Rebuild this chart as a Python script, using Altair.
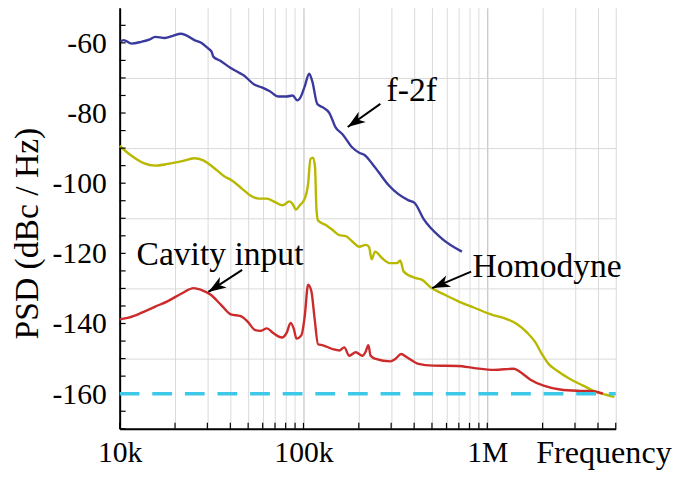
import altair as alt
import pandas as pd

# ---------------- data ----------------
blue_f = [10.1e3, 10.5e3, 11.6e3, 13.1e3, 14.6e3, 15.6e3, 17.6e3, 19.5e3, 21.5e3, 22.9e3,
          25.5e3, 27.6e3, 30.3e3, 31.6e3, 32.4e3, 35.3e3, 40.0e3, 45.3e3, 47.4e3, 53.7e3,
          59.4e3, 65.6e3, 73.1e3, 81.1e3, 87.3e3, 92.5e3, 96.4e3, 101.6e3, 107.4e3, 111.7e3,
          118.9e3, 127.6e3, 138.4e3, 149.2e3, 163.4e3, 185e3, 201e3, 214e3, 237e3, 256e3,
          291e3, 373e3, 402e3, 449e3, 564e3, 728e3]
blue_v = [-59.7, -59.2, -60.2, -59.7, -59.0, -58.3, -58.6, -58.0, -57.4, -57.8,
          -59.2, -59.9, -61.6, -62.5, -64.0, -65.1, -67.1, -68.7, -69.3, -71.8,
          -72.7, -73.8, -75.3, -75.3, -75.0, -76.4, -75.5, -72.4, -68.8, -71.0,
          -77.4, -78.4, -80.0, -84.0, -86.1, -89.9, -91.3, -91.9, -94.5, -96.8,
          -100.6, -104.9, -105.6, -110.1, -115.7, -119.5]

yel_f = [10.0e3, 11.6e3, 13.5e3, 15.6e3, 18.3e3, 21.6e3, 25.5e3, 28.3e3, 32.0e3, 37.0e3,
         41.0e3, 46.4e3, 51.4e3, 57.1e3, 63.2e3, 70.1e3, 77.1e3, 83.8e3, 87.3e3, 91.0e3,
         95.5e3, 101.6e3, 106e3, 109.1e3, 112.8e3, 115.6e3, 117.5e3, 120e3, 133e3, 144.5e3,
         156.7e3, 170e3, 185e3, 201e3, 218e3, 227e3, 235e3, 245e3, 268e3, 297e3,
         323e3, 336e3, 351e3, 405e3, 440e3, 498e3, 587e3, 692e3, 851e3, 1.047e6,
         1.286e6, 1.455e6, 1.648e6, 1.828e6, 1.983e6, 2.153e6, 2.388e6, 2.818e6, 3.324e6, 3.918e6,
         4.436e6, 4.92e6]
yel_v = [-89.4, -92.2, -94.3, -95.0, -94.5, -93.8, -92.9, -93.4, -95.3, -98.0,
         -99.3, -101.6, -103.5, -104.4, -104.4, -105.4, -106.3, -105.2, -105.9, -107.5,
         -106.3, -104.4, -100.2, -93.1, -92.7, -95.5, -106.8, -110.6, -112.0, -113.4,
         -114.8, -115.1, -116.7, -118.1, -117.6, -118.1, -121.7, -119.5, -121.4, -122.8,
         -122.8, -122.0, -125.2, -127.0, -127.5, -129.9, -131.8, -133.6, -135.5, -137.4,
         -138.8, -140.2, -142.6, -145.4, -148.7, -151.5, -153.4, -155.8, -157.7, -159.5,
         -160.3, -160.9]

red_f = [10.0e3, 11.2e3, 13.2e3, 15.6e3, 18.3e3, 21.6e3, 25.3e3, 27.7e3, 31.3e3, 35.5e3,
         40.2e3, 45.5e3, 49.4e3, 54.7e3, 58.2e3, 63.2e3, 68.7e3, 76.2e3, 81.1e3, 85.1e3,
         88.7e3, 91.6e3, 97.5e3, 101.6e3, 106e3, 110.4e3, 115.1e3, 120e3, 127.6e3, 144.5e3,
         156.7e3, 166.7e3, 177.4e3, 192.6e3, 209.4e3, 218e3, 225.4e3, 232e3, 247e3, 297e3,
         316e3, 340e3, 365e3, 422e3, 508e3, 692e3, 851e3, 1.09e6, 1.397e6, 1.518e6,
         1.718e6, 2.025e6, 2.489e6, 3.19e6, 3.758e6, 4.256e6]
red_v = [-138.8, -138.3, -136.9, -135.2, -133.6, -131.5, -129.9, -130.4, -131.8, -134.6,
         -137.4, -137.9, -139.3, -141.9, -142.1, -141.4, -142.8, -144.0, -142.6, -139.8,
         -141.6, -144.3, -143.3, -137.9, -128.9, -130.8, -138.8, -145.9, -146.2, -147.3,
         -147.7, -146.8, -149.2, -148.2, -149.2, -148.0, -146.2, -149.2, -150.1, -150.8,
         -150.1, -148.7, -149.6, -151.5, -152.0, -152.1, -152.7, -153.2, -152.9, -153.9,
         -156.0, -157.7, -158.8, -159.2, -159.3, -160.0]

floor_f = [10e3, 5e6]
floor_v = [-160, -160]

series_names = ["f-2f", "Homodyne", "Cavity input"]
series_colors = ["#3a3a9e", "#b8b800", "#cc2b2b"]

# annotations: label text, label anchor, arrow tail, arrow tip, head angle
ann_text = ["f-2f", "Homodyne", "Cavity input"]
ann_text_f = [283e3, 831e3, 12.35e3]
ann_text_v = [-76.7, -126.7, -123.3]
ann_tail_f = [262e3, 817e3, 46.4e3]
ann_tail_v = [-77.4, -125.2, -124.7]
ann_tip_f = [174e3, 502e3, 30.4e3]
ann_tip_v = [-84.0, -129.9, -131.0]
ann_angle = [235, 247, 237]

x_ticks = [m * d for d in (1e4, 1e5, 1e6) for m in range(1, 10) if m * d <= 5e6]
x_labels = {10000: "10k", 100000: "100k", 1000000: "1M"}
y_ticks = list(range(-170, -50, 5))
y_labels = [-160, -140, -120, -100, -80, -60]

# ---------------- chart ----------------
FONT = "Liberation Serif"
FS = 30      # tick labels
FS_T = 34    # words
W, H = 502, 426

rows = []
for name, fs, vs in zip(series_names, [blue_f, yel_f, red_f], [blue_v, yel_v, red_v]):
    for f, v in zip(fs, vs):
        rows.append({"series": name, "f": f, "v": v})
df = pd.DataFrame(rows)
floor_df = pd.DataFrame({"f": floor_f, "v": floor_v})
ann_df = pd.DataFrame({"text": ann_text, "tf": ann_text_f, "tv": ann_text_v,
                       "f1": ann_tail_f, "v1": ann_tail_v,
                       "f2": ann_tip_f, "v2": ann_tip_v, "ang": ann_angle})
xt_df = pd.DataFrame({"f": x_ticks})
yt_df = pd.DataFrame({"v": y_ticks})
yl_df = pd.DataFrame({"v": y_labels, "s": [str(v) for v in y_labels]})

x_expr = " : ".join(f"datum.value == {k} ? '{v}'" for k, v in x_labels.items()) + " : ''"

xscale = alt.Scale(type="log", domain=[1e4, 5e6], nice=False)
yscale = alt.Scale(domain=[-170, -50], nice=False, zero=False)

AX = dict(labelFont=FONT, labelFontSize=FS, labelColor="black",
          titleFont=FONT, titleColor="black", titleFontWeight="normal",
          labelOverlap=False, labelFlush=False, ticks=False,
          domainColor="black", domainWidth=2, grid=True, gridWidth=1)

x_axis = alt.Axis(
    values=x_ticks, labelExpr=x_expr, labelPadding=9,
    gridColor={"condition": {"test": "datum.value == 100000 || datum.value == 1000000", "value": "#b8b8b8"},
               "value": "#d9d9d9"},
    title="Frequency", titleFontSize=32.5, titleX=421, titleY=34, titleAlign="left",
    titleBaseline="alphabetic", titleAnchor="start", **AX,
)
y_axis = alt.Axis(
    values=y_ticks, labels=False, gridColor="#d9d9d9",
    title="PSD (dBc / Hz)", titleFontSize=FS_T, titleAngle=270, titleX=-83, titleY=228,
    titleAlign="center", titleBaseline="alphabetic", **AX,
)

lines = alt.Chart(df).mark_line(strokeWidth=2.4, interpolate="monotone").encode(
    x=alt.X("f:Q", scale=xscale, axis=x_axis),
    y=alt.Y("v:Q", scale=yscale, axis=y_axis),
    color=alt.Color("series:N", scale=alt.Scale(domain=series_names, range=series_colors), legend=None),
    detail="series:N",
)

floor = alt.Chart(floor_df).mark_line(strokeWidth=3.5, strokeDash=[20, 13], color="#3cc8e6").encode(
    x=alt.X("f:Q", scale=xscale),
    y=alt.Y("v:Q", scale=yscale),
)

yticks = alt.Chart(yt_df).mark_rule(color="black", strokeWidth=1.2).encode(
    y=alt.Y("v:Q", scale=yscale),
    x=alt.value(0), x2=alt.value(6),
)
xticks = alt.Chart(xt_df).mark_rule(color="black", strokeWidth=1.2).encode(
    x=alt.X("f:Q", scale=xscale),
    y=alt.value(H), y2=alt.value(H - 6),
)
ylabels = alt.Chart(yl_df).mark_text(
    align="right", baseline="middle", font=FONT, fontSize=FS, color="black", dx=-13, dy=1,
).encode(
    y=alt.Y("v:Q", scale=yscale),
    x=alt.value(0),
    text="s:N",
)

arrows = alt.Chart(ann_df).mark_rule(color="black", strokeWidth=2).encode(
    x=alt.X("f1:Q", scale=xscale), x2="f2:Q",
    y=alt.Y("v1:Q", scale=yscale), y2="v2:Q",
)
heads = alt.Chart(ann_df).mark_point(
    shape="M0,0L-0.7,2L0,1.45L0.7,2Z", filled=True, opacity=1, color="black", size=324,
).encode(
    x=alt.X("f2:Q", scale=xscale),
    y=alt.Y("v2:Q", scale=yscale),
    angle=alt.Angle("ang:Q", scale=None),
)
labels = alt.Chart(ann_df).mark_text(
    align="left", baseline="alphabetic", font=FONT, fontSize=FS_T, color="black",
).encode(
    x=alt.X("tf:Q", scale=xscale),
    y=alt.Y("tv:Q", scale=yscale),
    text="text:N",
)

chart = alt.layer(lines, xticks, yticks, ylabels, arrows, heads, labels, floor).properties(
    width=W, height=H,
    background="white",
    autosize=alt.AutoSizeParams(type="none"),
    padding={"left": 113, "top": -3, "right": 64, "bottom": 44},
).configure_view(
    stroke=None,
)

chart.save("out.html", embed_options={"renderer": "svg", "actions": False})
